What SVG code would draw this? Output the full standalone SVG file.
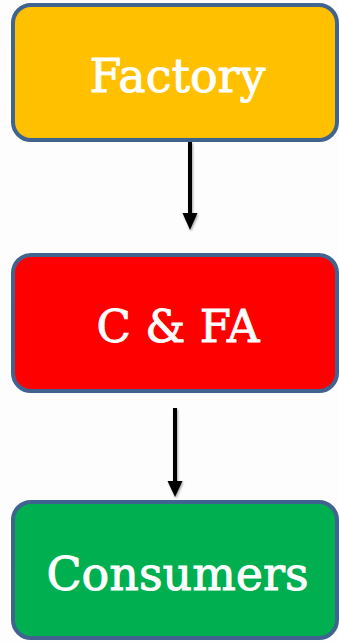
<svg xmlns="http://www.w3.org/2000/svg" width="339" height="641" viewBox="0 0 339 641">
  <style>
    .box { stroke: #41638f; stroke-width: 4; }
    .label { font-family: "DejaVu Serif", "Liberation Serif", serif; fill: #ffffff; stroke: #ffffff; stroke-width: 0.9; text-anchor: middle; }
    .conn { stroke: #000000; stroke-width: 4; fill: none; }
  </style>
  <defs>
    <filter id="shadow" x="-50%" y="-10%" width="200%" height="130%">
      <feDropShadow dx="1" dy="1.5" stdDeviation="1.2" flood-color="#000" flood-opacity="0.35"/>
    </filter>
  </defs>
  <rect width="339" height="641" fill="#fdfdfd"/>

  <g id="factory">
    <rect class="box" x="13" y="5" width="324" height="135" rx="18" fill="#ffc000"/>
    <text class="label" x="177.5" y="92" font-size="46">Factory</text>
  </g>

  <g id="cfa">
    <rect class="box" x="13" y="255" width="324" height="136" rx="18" fill="#ff0000"/>
    <text class="label" x="178" y="342" font-size="45">C &amp; FA</text>
  </g>

  <g id="consumers">
    <rect class="box" x="13" y="502" width="324" height="136" rx="18" fill="#00b050"/>
    <text class="label" x="177.5" y="590" font-size="46">Consumers</text>
  </g>

  <g id="connectors" filter="url(#shadow)">
    <line class="conn" x1="190" y1="142" x2="190" y2="214"/>
    <path d="M182.5,213 L197.5,213 L190,230 Z" fill="#000000"/>
    <line class="conn" x1="175" y1="408" x2="175" y2="482"/>
    <path d="M167.5,481 L182.5,481 L175,497 Z" fill="#000000"/>
  </g>
</svg>
